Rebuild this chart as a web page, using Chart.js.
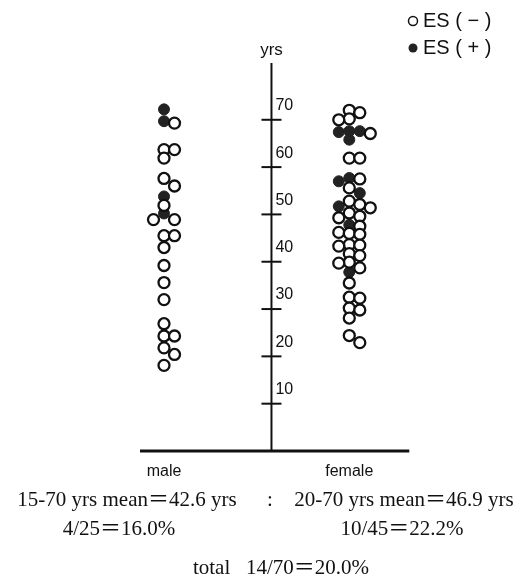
<!DOCTYPE html>
<html>
<head>
<meta charset="utf-8">
<script src="https://cdn.jsdelivr.net/npm/chart.js@4/dist/chart.umd.min.js"></script>
<style>
html, body { margin: 0; padding: 0; background: #fff; }
</style>
</head>
<body>
<canvas id="esChart" width="522" height="582"></canvas>
<script>
// Grupos e idades (anos)
const categories = ['male', 'female'];
const maleNeg = [69.3, 63.7, 63.7, 61.9, 57.6, 56.0, 51.9, 48.9, 48.9, 45.5, 45.5, 43.0,
                 39.2, 35.6, 32.0, 26.9, 24.3, 24.3, 21.8, 20.4, 18.1];
const malePos = [72.2, 69.7, 53.8, 50.2];
const femaleNeg = [72.0, 71.5, 70.2, 70.0, 67.1, 61.9, 61.9, 57.5, 55.6, 52.8, 52.1, 51.4,
                   50.3, 49.6, 49.3, 47.5, 46.2, 46.0, 45.8, 43.6, 43.5, 43.3, 41.7, 41.3,
                   39.9, 39.7, 38.7, 35.5, 32.5, 32.3, 30.2, 29.8, 28.1, 24.4, 22.9];
const femalePos = [67.6, 67.6, 67.4, 65.8, 57.7, 57.0, 54.5, 51.7, 47.8, 37.8];
const yTicks = [10, 20, 30, 40, 50, 60, 70];
const legendLabels = ['ES ( − )', 'ES ( + )'];
const summaryLeft = ['15-70 yrs mean＝42.6 yrs', '4/25＝16.0%'];
const summaryRight = ['20-70 yrs mean＝46.9 yrs', '10/45＝22.2%'];
const summaryTotal = 'total   14/70＝20.0%';

const AXIS_AT = 0.58;   // posição do eixo y entre os grupos
const DOT_R = 5.5;

function toPoints(values, g) {
    return values.map(v => ({ x: g, y: v, g: g }));
}

// Plugin para desenhar eixo, legenda e textos
const decorPlugin = {
    id: 'decor',
    afterDatasetsDraw(chart) {
        const { ctx, chartArea } = chart;
        const xs = chart.scales.x, ys = chart.scales.y;
        const ax = xs.getPixelForValue(AXIS_AT);
        ctx.save();
        ctx.strokeStyle = '#111';
        ctx.fillStyle = '#111';

        // eixo vertical
        ctx.lineWidth = 2;
        ctx.beginPath();
        ctx.moveTo(ax, chartArea.top);
        ctx.lineTo(ax, chartArea.bottom);
        ctx.stroke();

        // ticks e rótulos
        ctx.font = '16px "Liberation Sans", Arial, sans-serif';
        ctx.textAlign = 'left';
        ctx.textBaseline = 'middle';
        yTicks.forEach(v => {
            const py = ys.getPixelForValue(v);
            ctx.beginPath();
            ctx.moveTo(ax - 10, py);
            ctx.lineTo(ax + 10, py);
            ctx.stroke();
            ctx.fillText(String(v), ax + 4, py - 14);
        });
        ctx.textAlign = 'center';
        ctx.font = '17px "Liberation Sans", Arial, sans-serif';
        ctx.fillText('yrs', ax, chartArea.top - 13);

        // linha de base
        ctx.lineWidth = 3;
        ctx.beginPath();
        ctx.moveTo(xs.getPixelForValue(0) - 24, chartArea.bottom);
        ctx.lineTo(xs.getPixelForValue(1) + 60, chartArea.bottom);
        ctx.stroke();

        // categorias
        ctx.font = '16px "Liberation Sans", Arial, sans-serif';
        categories.forEach((c, i) => {
            ctx.fillText(c, xs.getPixelForValue(i), chartArea.bottom + 21);
        });

        // legenda
        ctx.font = '20px "Liberation Sans", Arial, sans-serif';
        ctx.textAlign = 'left';
        legendLabels.forEach((lab, i) => {
            const ly = 21 + i * 27;
            ctx.beginPath();
            ctx.arc(413, ly, 4.5, 0, Math.PI * 2);
            if (i === 0) {
                ctx.lineWidth = 1.5;
                ctx.fillStyle = '#fff';
                ctx.fill();
                ctx.stroke();
            } else {
                ctx.fillStyle = '#222';
                ctx.fill();
            }
            ctx.fillStyle = '#111';
            ctx.fillText(lab, 423, ly);
        });

        // resumo
        ctx.font = '21px "Liberation Serif", "Times New Roman", "Noto Sans CJK JP", serif';
        ctx.textAlign = 'center';
        ctx.fillText(summaryLeft[0], 127, 500);
        ctx.fillText(':', 270, 500);
        ctx.fillText(summaryRight[0], 404, 500);
        ctx.fillText(summaryLeft[1], 119, 529);
        ctx.fillText(summaryRight[1], 402, 529);
        ctx.fillText(summaryTotal, 281, 568);
        ctx.restore();
    }
};

const ctx = document.getElementById('esChart').getContext('2d');
const esChart = new Chart(ctx, {
    type: 'scatter',
    data: {
        datasets: [{
            label: legendLabels[0],
            data: toPoints(maleNeg, 0).concat(toPoints(femaleNeg, 1)),
            pointRadius: DOT_R,
            pointBackgroundColor: '#fff',
            pointBorderColor: '#111',
            pointBorderWidth: 2.3
        }, {
            label: legendLabels[1],
            data: toPoints(malePos, 0).concat(toPoints(femalePos, 1)),
            pointRadius: DOT_R,
            pointBackgroundColor: '#222',
            pointBorderColor: '#222',
            pointBorderWidth: 1
        }]
    },
    options: {
        responsive: false,
        animation: false,
        layout: { padding: { top: 63, bottom: 131, left: 0, right: 0 } },
        scales: {
            x: { type: 'linear', display: false, min: -0.843, max: 1.890 },
            y: { type: 'linear', display: false, min: 0, max: 82 }
        },
        plugins: {
            legend: { display: false },
            tooltip: { enabled: false }
        }
    },
    plugins: [decorPlugin]
});

// Distribui os pontos lado a lado (beeswarm) para não sobrepor
function applySwarm(chart) {
    const xs = chart.scales.x, ys = chart.scales.y;
    const step = 10.5, minDist = 8;
    const lanes = [0, 1, -1, 2, -2, 3, -3];
    categories.forEach((cat, gi) => {
        const pts = [];
        chart.data.datasets.forEach(ds => ds.data.forEach(p => { if (p.g === gi) pts.push(p); }));
        pts.sort((a, b) => b.y - a.y);
        const placed = [];
        const cx = xs.getPixelForValue(gi);
        pts.forEach(p => {
            const py = ys.getPixelForValue(p.y);
            for (const k of lanes) {
                const px = cx + k * step;
                if (placed.every(q => Math.hypot(q.px - px, q.py - py) >= minDist)) {
                    placed.push({ px, py });
                    p.x = xs.getValueForPixel(px);
                    break;
                }
            }
        });
    });
    chart.update('none');
}
applySwarm(esChart);
</script>
</body>
</html>
